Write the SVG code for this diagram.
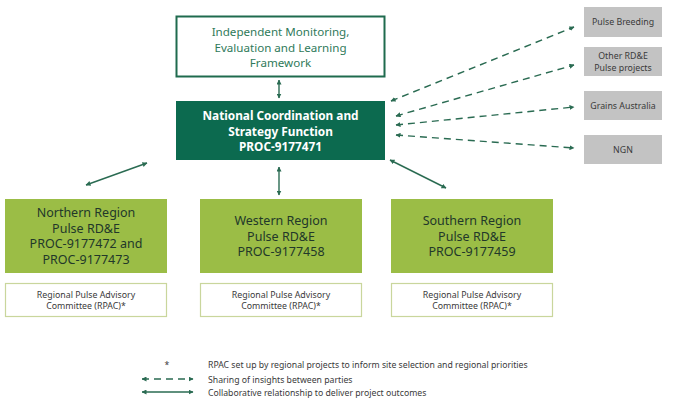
<svg xmlns="http://www.w3.org/2000/svg" width="675" height="406" viewBox="0 0 675 406">
<defs>
<marker id="ah" viewBox="0 0 10 10" refX="9" refY="5" markerWidth="5" markerHeight="5" orient="auto-start-reverse" markerUnits="userSpaceOnUse">
<path d="M0,0 L10,5 L0,10 z" fill="#2a6b52"/>
</marker>
<style>
.t{font-family:"Noto Sans","Liberation Sans",sans-serif;text-anchor:middle}
.top{font-size:11.6px;fill:#2f7a5a}
.nat{font-size:11.8px;fill:#ffffff;font-weight:bold}
.reg{font-size:12.5px;fill:#22382a}
.small{font-size:8.8px;fill:#3a3a3a}
.leg{font-family:"Noto Sans","Liberation Sans",sans-serif;font-size:8.7px;fill:#3a3a3a}
.gray{fill:#c3c3c3}
.regbox{fill:#9bbd46}
.rpac{fill:#ffffff;stroke:#c9d69c;stroke-width:1.2}
.solid{stroke:#2a6b52;stroke-width:1.4;fill:none;marker-start:url(#ah);marker-end:url(#ah)}
.dash{stroke:#2a6b52;stroke-width:1.4;fill:none;stroke-dasharray:7,5;marker-start:url(#ah);marker-end:url(#ah)}
</style>
</defs>
<rect width="675" height="406" fill="#ffffff"/>

<g id="imel">
<rect x="176.5" y="16.5" width="208" height="60" fill="#ffffff" stroke="#1f6b4e" stroke-width="2"/>
<text class="t top" x="280.5" y="36">Independent Monitoring,</text>
<text class="t top" x="280.5" y="51.5">Evaluation and Learning</text>
<text class="t top" x="280.5" y="67">Framework</text>
</g>

<g id="national">
<rect x="176" y="101" width="209" height="59" fill="#0c6a4f"/>
<text class="t nat" x="280.5" y="120">National Coordination and</text>
<text class="t nat" x="280.5" y="135.5">Strategy Function</text>
<text class="t nat" x="280.5" y="151">PROC-9177471</text>
</g>

<g id="pulse-breeding">
<rect class="gray" x="584" y="7" width="78" height="30"/>
<text class="t small" x="623" y="25">Pulse Breeding</text>
</g>
<g id="other-rde">
<rect class="gray" x="584" y="47" width="78" height="29"/>
<text class="t small" x="623" y="59">Other RD&amp;E</text>
<text class="t small" x="623" y="71">Pulse projects</text>
</g>
<g id="grains-australia">
<rect class="gray" x="584" y="91" width="78" height="29"/>
<text class="t small" x="623" y="108.5">Grains Australia</text>
</g>
<g id="ngn">
<rect class="gray" x="584" y="135" width="78" height="29"/>
<text class="t small" x="623" y="152.5">NGN</text>
</g>

<g id="northern">
<rect class="regbox" x="5" y="199" width="162" height="74"/>
<text class="t reg" x="86" y="217">Northern Region</text>
<text class="t reg" x="86" y="232.5">Pulse RD&amp;E</text>
<text class="t reg" x="86" y="248">PROC-9177472 and</text>
<text class="t reg" x="86" y="263.5">PROC-9177473</text>
</g>
<g id="western">
<rect class="regbox" x="200" y="199" width="162" height="74"/>
<text class="t reg" x="281" y="225">Western Region</text>
<text class="t reg" x="281" y="240.5">Pulse RD&amp;E</text>
<text class="t reg" x="281" y="256">PROC-9177458</text>
</g>
<g id="southern">
<rect class="regbox" x="391" y="199" width="162" height="74"/>
<text class="t reg" x="472" y="225">Southern Region</text>
<text class="t reg" x="472" y="240.5">Pulse RD&amp;E</text>
<text class="t reg" x="472" y="256">PROC-9177459</text>
</g>

<g id="rpac-northern">
<rect class="rpac" x="5.5" y="283.5" width="161" height="33"/>
<text class="t small" x="86" y="297.5">Regional Pulse Advisory</text>
<text class="t small" x="86" y="309">Committee (RPAC)*</text>
</g>
<g id="rpac-western">
<rect class="rpac" x="200.5" y="283.5" width="161" height="33"/>
<text class="t small" x="281" y="297.5">Regional Pulse Advisory</text>
<text class="t small" x="281" y="309">Committee (RPAC)*</text>
</g>
<g id="rpac-southern">
<rect class="rpac" x="391.5" y="283.5" width="161" height="33"/>
<text class="t small" x="472" y="297.5">Regional Pulse Advisory</text>
<text class="t small" x="472" y="309">Committee (RPAC)*</text>
</g>

<g id="connectors">
<line class="solid" x1="279" y1="80" x2="279" y2="98"/>
<line class="solid" x1="279" y1="167" x2="279" y2="195"/>
<line class="solid" x1="147" y1="163" x2="86" y2="185"/>
<line class="solid" x1="390" y1="160" x2="446" y2="188"/>
<line class="dash" x1="391" y1="101" x2="574" y2="27"/>
<line class="dash" x1="396" y1="116" x2="574" y2="65"/>
<line class="dash" x1="396" y1="125" x2="574" y2="107"/>
<line class="dash" x1="396" y1="135" x2="574" y2="148"/>
</g>

<g id="legend">
<text class="leg" x="167" y="368" text-anchor="middle">*</text>
<text class="leg" x="208" y="368">RPAC set up by regional projects to inform site selection and regional priorities</text>
<line class="dash" x1="142" y1="379" x2="193" y2="379" stroke-dasharray="8,6"/>
<text class="leg" x="208" y="382.5">Sharing of insights between parties</text>
<line class="solid" x1="142" y1="392" x2="193" y2="392"/>
<text class="leg" x="208" y="396">Collaborative relationship to deliver project outcomes</text>
</g>
</svg>
